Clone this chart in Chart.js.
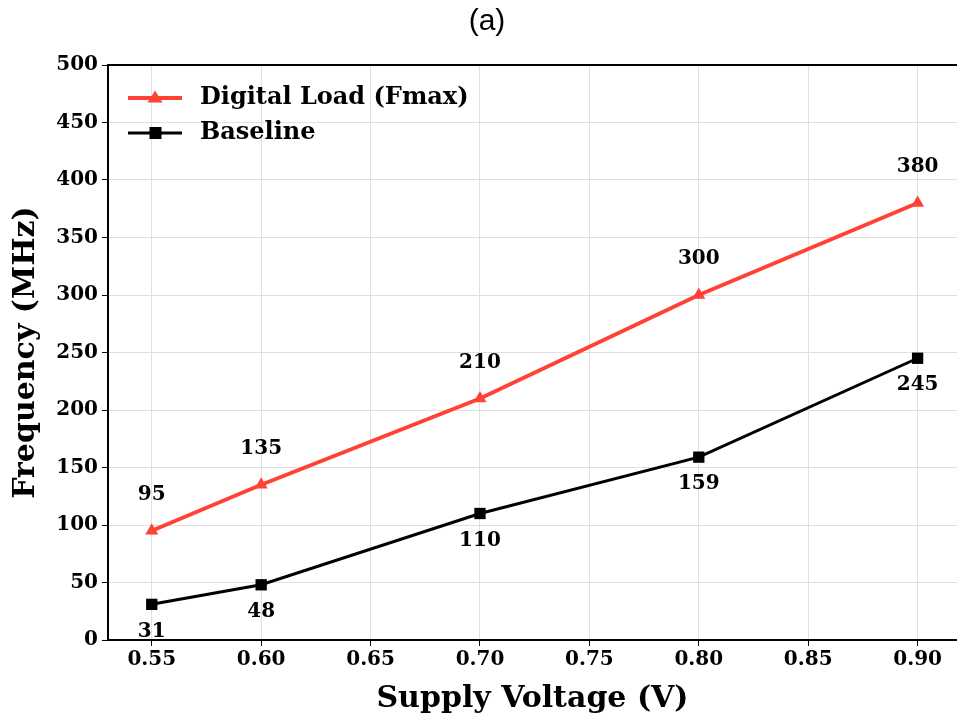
<!DOCTYPE html>
<html>
<head>
<meta charset="utf-8">
<script src="https://cdn.jsdelivr.net/npm/chart.js@4.4.1/dist/chart.umd.min.js"></script>
<style>
html,body{margin:0;padding:0;background:#fff;}
#wrap{width:957px;height:717px;}
</style>
</head>
<body>
<div id="wrap"><canvas id="c" width="957" height="717"></canvas></div>
<script>
const voltages = [0.55, 0.60, 0.70, 0.80, 0.90];
const digitalLoad = [95, 135, 210, 300, 380];
const baseline = [31, 48, 110, 159, 245];
const xTicks = [0.55, 0.60, 0.65, 0.70, 0.75, 0.80, 0.85, 0.90];
const yTicks = [0, 50, 100, 150, 200, 250, 300, 350, 400, 450, 500];
const seriesNames = ['Digital Load (Fmax)', 'Baseline'];
const chartTitle = '(a)';
const xTitle = 'Supply Voltage (V)';
const yTitle = 'Frequency (MHz)';

const RED = '#ff4136';
const SERIF = '"DejaVu Serif", serif';

const pts = (ys) => voltages.map((v, i) => ({x: v, y: ys[i]}));

const extras = {
  id: 'extras',
  afterDraw(chart) {
    const ctx = chart.ctx;
    const a = chart.chartArea;
    ctx.save();
    ctx.strokeStyle = '#000';
    ctx.lineWidth = 2;
    ctx.beginPath();
    ctx.moveTo(a.left, a.top);
    ctx.lineTo(a.right, a.top);
    ctx.stroke();
    ctx.fillStyle = '#000';
    ctx.font = '30px "Liberation Sans", Arial, sans-serif';
    ctx.textAlign = 'center';
    ctx.textBaseline = 'middle';
    ctx.fillText(chartTitle, 487, 22);
    ctx.font = 'bold 20px ' + SERIF;
    chart.data.datasets.forEach((ds, di) => {
      const meta = chart.getDatasetMeta(di);
      meta.data.forEach((el, i) => {
        const off = di === 0 ? -36 : 27;
        ctx.fillText(String(ds.data[i].y), el.x, el.y + off);
      });
    });
    const rows = [{y: 98, ds: chart.data.datasets[0]}, {y: 133, ds: chart.data.datasets[1]}];
    rows.forEach(r => {
      ctx.strokeStyle = r.ds.borderColor;
      ctx.lineWidth = r.ds.borderWidth;
      ctx.beginPath();
      ctx.moveTo(128, r.y);
      ctx.lineTo(182, r.y);
      ctx.stroke();
      ctx.fillStyle = r.ds.borderColor;
      if (r.ds.pointStyle === 'triangle') {
        const s = 7.5;
        ctx.beginPath();
        ctx.moveTo(155, r.y - s);
        ctx.lineTo(155 + s, r.y + s * 0.6);
        ctx.lineTo(155 - s, r.y + s * 0.6);
        ctx.closePath();
        ctx.fill();
      } else {
        ctx.fillRect(149.5, r.y - 6, 12, 12);
      }
      ctx.fillStyle = '#000';
      ctx.font = 'bold 24px ' + SERIF;
      ctx.textAlign = 'left';
      ctx.textBaseline = 'middle';
      ctx.fillText(r.ds.label, 200, r.y);
    });
    ctx.restore();
  }
};

new Chart(document.getElementById('c'), {
  type: 'line',
  data: {
    datasets: [
      {
        label: seriesNames[0],
        data: pts(digitalLoad),
        borderColor: RED,
        backgroundColor: RED,
        borderWidth: 4,
        pointStyle: 'triangle',
        pointRadius: 7.5,
        pointBorderWidth: 0,
        fill: false,
        tension: 0
      },
      {
        label: seriesNames[1],
        data: pts(baseline),
        borderColor: '#000',
        backgroundColor: '#000',
        borderWidth: 3,
        pointStyle: 'rect',
        pointRadius: 8,
        pointBorderWidth: 0,
        fill: false,
        tension: 0
      }
    ]
  },
  options: {
    responsive: false,
    animation: false,
    devicePixelRatio: 1,
    layout: {autoPadding: false, padding: {top: 65, right: 0, left: 0, bottom: 0}},
    plugins: {legend: {display: false}, tooltip: {enabled: false}, title: {display: false}},
    scales: {
      x: {
        type: 'linear',
        min: 0.53,
        max: 0.918,
        afterBuildTicks: (s) => { s.ticks = xTicks.map(v => ({value: v})); },
        afterFit: (s) => { s.height = 77; s.paddingRight = 0; s.paddingLeft = 0; },
        border: {display: true, color: '#000', width: 2},
        grid: {color: '#e0e0e0', lineWidth: 1, tickColor: '#000', tickLength: 6, drawTicks: true},
        ticks: {
          color: '#000',
          font: {family: SERIF, size: 20, weight: 'bold'},
          padding: 2,
          maxRotation: 0,
          callback: (v) => Number(v).toFixed(2)
        },
        title: {display: true, text: xTitle, color: '#000', font: {family: SERIF, size: 30, weight: 'bold'}, padding: {top: 0, bottom: 0}}
      },
      y: {
        type: 'linear',
        min: 0,
        max: 500,
        afterBuildTicks: (s) => { s.ticks = yTicks.map(v => ({value: v})); },
        afterFit: (s) => { s.width = 108; s.paddingTop = 0; s.paddingBottom = 0; },
        border: {display: true, color: '#000', width: 2},
        grid: {color: '#e0e0e0', lineWidth: 1, tickColor: '#000', tickLength: 6, drawTicks: true},
        ticks: {
          color: '#000',
          font: {family: SERIF, size: 20, weight: 'bold'},
          padding: 4
        },
        title: {display: true, text: yTitle, color: '#000', font: {family: SERIF, size: 30, weight: 'bold'}, padding: {top: 8, bottom: 0}}
      }
    }
  },
  plugins: [extras]
});
</script>
</body>
</html>
